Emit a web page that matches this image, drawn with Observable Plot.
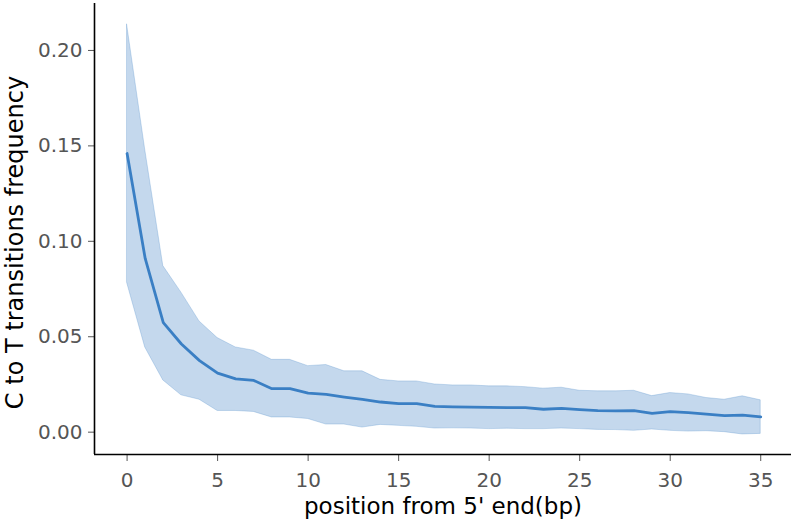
<!DOCTYPE html>
<html>
<head>
<meta charset="utf-8">
<script src="https://cdn.jsdelivr.net/npm/d3@7"></script>
<script src="https://cdn.jsdelivr.net/npm/@observablehq/plot@0.6"></script>
<style>
  html, body { margin: 0; padding: 0; background: #fff; }
  #chart svg { display: block; }
</style>
</head>
<body>
<div id="chart"></div>
<script>
const positions = d3.range(0, 36);
const meanFreq = [0.146, 0.091, 0.0574, 0.0462, 0.0375, 0.0309, 0.0279, 0.0271, 0.0228, 0.0228,
  0.0205, 0.0198, 0.0184, 0.0172, 0.0158, 0.0150, 0.0150, 0.0135, 0.0133, 0.0131,
  0.0130, 0.0129, 0.0129, 0.0120, 0.0125, 0.0118, 0.0113, 0.0112, 0.0113, 0.0099,
  0.0108, 0.0102, 0.0094, 0.0087, 0.0089, 0.0080];
const upperFreq = [0.2135, 0.148, 0.087, 0.0731, 0.058, 0.0493, 0.0444, 0.0427, 0.0379, 0.0379,
  0.0346, 0.0352, 0.0319, 0.0319, 0.0274, 0.0266, 0.0266, 0.0250, 0.0245, 0.0245,
  0.0240, 0.0240, 0.0236, 0.0228, 0.0233, 0.0217, 0.0214, 0.0214, 0.0217, 0.0189,
  0.0205, 0.0198, 0.0179, 0.0170, 0.0188, 0.0167];
const lowerFreq = [0.0783, 0.0444, 0.0271, 0.0193, 0.0170, 0.0111, 0.0111, 0.0106, 0.0077, 0.0077,
  0.0069, 0.0040, 0.0040, 0.0024, 0.0038, 0.0033, 0.0028, 0.0019, 0.0020, 0.0019,
  0.0016, 0.0018, 0.0016, 0.0016, 0.0019, 0.0016, 0.0012, 0.0011, 0.0007, 0.0014,
  0.0007, 0.0003, 0.0005, 0.0000, -0.0012, -0.0009];
const xTicks = [0, 5, 10, 15, 20, 25, 30, 35];
const yTicks = [0, 0.05, 0.10, 0.15, 0.20];
const xLabel = "position from 5' end(bp)";
const yLabel = "C to T transitions frequency";

const data = positions.map((p, i) => ({pos: p, mean: meanFreq[i], lo: lowerFreq[i], hi: upperFreq[i]}));
const xDomain = [-1.8, 36.7];
const yDomain = [-0.0117, 0.2246];
const lineColor = "#3a7fc4";

const chart = Plot.plot({
  width: 795,
  height: 522,
  marginLeft: 94,
  marginTop: 3,
  marginBottom: 68,
  marginRight: 4,
  style: {fontFamily: "DejaVu Sans", background: "#fff", overflow: "visible"},
  x: {domain: xDomain},
  y: {domain: yDomain},
  marks: [
    Plot.areaY(data, {x: "pos", y1: "lo", y2: "hi", fill: lineColor, fillOpacity: 0.3, stroke: lineColor, strokeOpacity: 0.25, strokeWidth: 1}),
    Plot.lineY(data, {x: "pos", y: "mean", stroke: lineColor, strokeWidth: 2.8}),
    Plot.axisX({ticks: xTicks, tickFormat: d => String(d), tickSize: 7, tickPadding: 11, fontSize: 20, color: "#555", stroke: "#555", label: null}),
    Plot.axisY({ticks: yTicks, tickFormat: d3.format(".2f"), tickSize: 6, tickPadding: 6, fontSize: 20, color: "#555", stroke: "#555", label: null}),
    Plot.ruleX([xDomain[0]], {stroke: "#000", strokeWidth: 1.6}),
    Plot.ruleY([yDomain[0]], {stroke: "#000", strokeWidth: 1.6}),
    Plot.text([xLabel], {frameAnchor: "bottom", textAnchor: "middle", lineAnchor: "bottom", dy: 59, fontSize: 23, fill: "#000", text: d => d}),
    Plot.text([yLabel], {frameAnchor: "left", textAnchor: "middle", lineAnchor: "bottom", dx: -72, dy: 13.5, rotate: -90, fontSize: 24, fill: "#000", text: d => d})
  ]
});
document.getElementById("chart").append(chart);
</script>
</body>
</html>
